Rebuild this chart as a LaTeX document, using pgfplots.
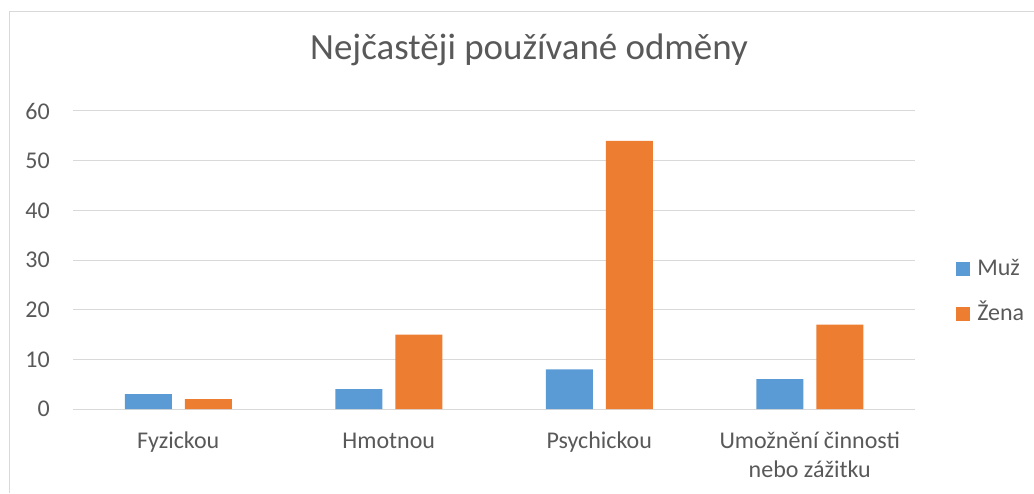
\documentclass[border=0pt]{standalone}
\usepackage{pgfplots}
\pgfplotsset{compat=1.18}
\usepackage{fontspec}
\setmainfont{Carlito}
\definecolor{muz}{HTML}{5B9BD5}
\definecolor{zena}{HTML}{ED7D31}
\definecolor{txt}{HTML}{595959}
\definecolor{grd}{HTML}{D9D9D9}
\begin{document}
\begin{tikzpicture}
\path[use as bounding box] (0,0) rectangle (775.5pt,369.75pt);
\draw[grd, line width=0.75pt] (6.75pt,0) -- (6.75pt,360.75pt) -- (775.5pt,360.75pt);
\begin{axis}[
  at={(54.75pt,63pt)}, anchor=south west,
  scale only axis, width=631.5pt, height=223.5pt,
  xmin=-0.5, xmax=3.5, ymin=0, ymax=60,
  ytick={0,10,...,60},
  xtick={0,1,2,3},
  xticklabels={{Fyzickou\\\mbox{}},{Hmotnou\\\mbox{}},{Psychickou\\\mbox{}},{Umožnění činnosti\\nebo zážitku}},
  axis line style={draw=none},
  major tick length=0pt,
  ymajorgrids, grid style={grd, line width=0.75pt},
  /pgf/number format/assume math mode=true,
  tick label style={font=\fontsize{18pt}{21.75pt}\selectfont, text=txt},
  yticklabel style={anchor=east, inner sep=0pt, xshift=-17.25pt},
  xticklabel style={anchor=base, align=center, inner sep=0pt, yshift=-51pt},
  ybar, bar width=35.25pt,
  title={Nejčastěji používané odměny},
  title style={at={(0.5416,1.1443)}, anchor=base, inner sep=0pt, font=\fontsize{27.7pt}{33pt}\selectfont, text=txt},
  legend style={at={(1.0487,0.394)}, anchor=west, draw=none, fill=none, inner sep=0pt,
    font=\fontsize{18pt}{21.75pt}\selectfont, text=txt,
    nodes={inner sep=0pt, text height=13pt, text depth=4pt},
    row sep=16.75pt,
    /tikz/every odd column/.append style={column sep=5.25pt}},
  legend cell align=left,
  legend image code/.code={\fill[#1] (0pt,-5.25pt) rectangle (10.5pt,5.25pt);},
]
\addplot[fill=muz, draw=none, bar shift=-22.5pt] coordinates {(0,3) (1,4) (2,8) (3,6)};
\addplot[fill=zena, draw=none, bar shift=22.5pt] coordinates {(0,2) (1,15) (2,54) (3,17)};
\legend{Muž,Žena}
\end{axis}
\end{tikzpicture}
\end{document}
